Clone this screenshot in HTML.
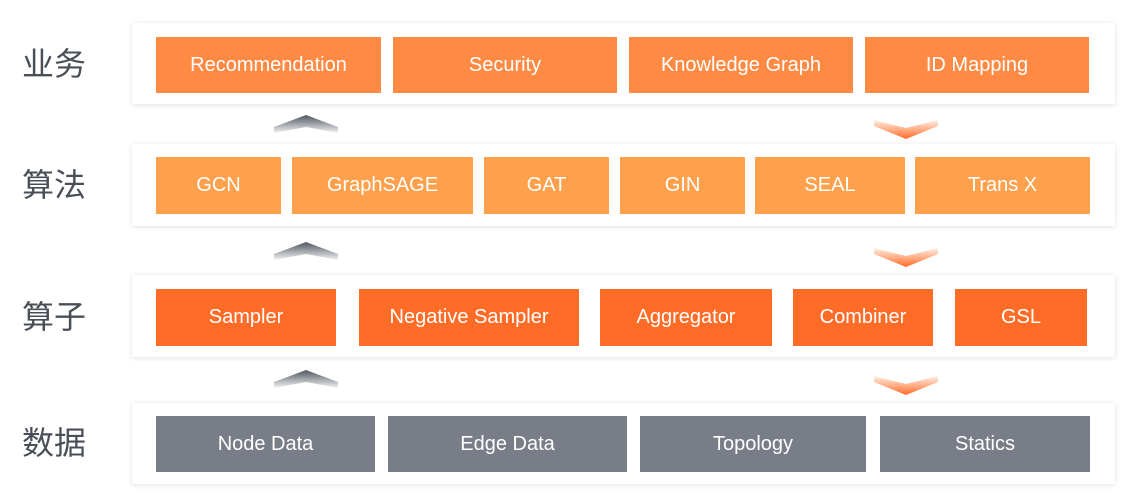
<!DOCTYPE html>
<html><head><meta charset="utf-8"><style>
body{margin:0;width:1137px;height:501px;background:#fff;position:relative;overflow:hidden;font-family:"Liberation Sans","Noto Sans CJK SC",sans-serif}
.lab{position:absolute;left:22px;font-size:32px;color:#4a4f57;font-family:"Noto Sans CJK SC",sans-serif;line-height:40px}
.pan{position:absolute;left:132px;width:983px;background:#fff;box-shadow:0 1px 5px rgba(0,0,0,0.12)}
.b{position:absolute;color:#fff;font-size:20px;display:flex;align-items:center;justify-content:center}
.r1{background:#ff8a43;top:37px;height:56px}
.r2{background:#ffa04c;top:157px;height:57px}
.r3{background:#ff6c27;top:289px;height:57px}
.r4{background:#787d87;top:416px;height:56px}
svg{position:absolute;left:0;top:0}
</style></head><body>
<div class="lab" style="top:42px">业务</div>
<div class="lab" style="top:163px">算法</div>
<div class="lab" style="top:295px">算子</div>
<div class="lab" style="top:421px">数据</div>
<div class="pan" style="top:23px;height:81px"></div>
<div class="pan" style="top:144px;height:82px"></div>
<div class="pan" style="top:275px;height:82px"></div>
<div class="pan" style="top:403px;height:81px"></div>

<div class="b r1" style="left:156px;width:225px">Recommendation</div>
<div class="b r1" style="left:393px;width:224px">Security</div>
<div class="b r1" style="left:629px;width:224px">Knowledge Graph</div>
<div class="b r1" style="left:865px;width:224px">ID Mapping</div>

<div class="b r2" style="left:156px;width:125px">GCN</div>
<div class="b r2" style="left:292px;width:181px">GraphSAGE</div>
<div class="b r2" style="left:484px;width:125px">GAT</div>
<div class="b r2" style="left:620px;width:125px">GIN</div>
<div class="b r2" style="left:755px;width:150px">SEAL</div>
<div class="b r2" style="left:915px;width:175px">Trans X</div>

<div class="b r3" style="left:156px;width:180px">Sampler</div>
<div class="b r3" style="left:359px;width:220px">Negative Sampler</div>
<div class="b r3" style="left:600px;width:172px">Aggregator</div>
<div class="b r3" style="left:793px;width:140px">Combiner</div>
<div class="b r3" style="left:955px;width:132px">GSL</div>

<div class="b r4" style="left:156px;width:219px">Node Data</div>
<div class="b r4" style="left:388px;width:239px">Edge Data</div>
<div class="b r4" style="left:640px;width:226px">Topology</div>
<div class="b r4" style="left:880px;width:210px">Statics</div>

<svg width="1137" height="501">
<defs>
<linearGradient id="g" x1="0" y1="0" x2="0" y2="1"><stop offset="0" stop-color="#4f555e"/><stop offset="1" stop-color="#f2f3f4"/></linearGradient>
<linearGradient id="o" x1="0" y1="0" x2="0" y2="1"><stop offset="0" stop-color="#fff0e6"/><stop offset="1" stop-color="#ff6c27"/></linearGradient>
<g id="up"><polygon points="306,0 338,12 338,18 306,12 274,18 274,12" fill="url(#g)"/></g>
<g id="dn"><polygon points="874,0 906,8 938,0 938,6 906,19 874,6" fill="url(#o)"/></g>
</defs>
<use href="#up" y="115"/><use href="#up" y="242"/><use href="#up" y="370"/>
<use href="#dn" y="120"/><use href="#dn" y="248"/><use href="#dn" y="376"/>
</svg>
</body></html>
